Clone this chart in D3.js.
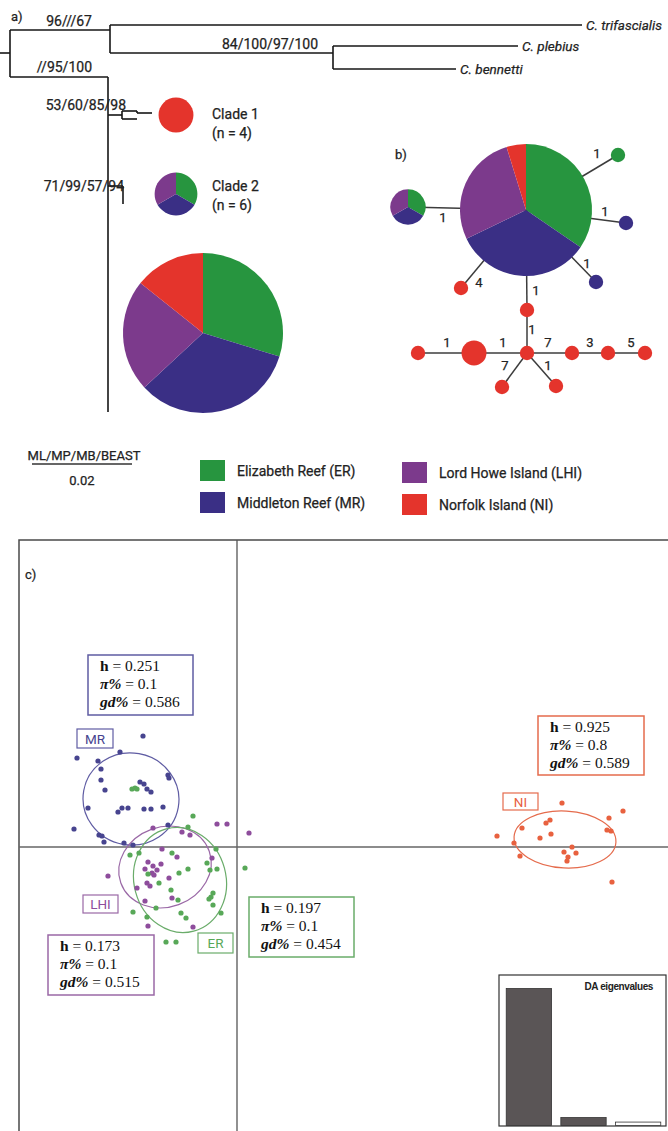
<!DOCTYPE html>
<html><head><meta charset="utf-8">
<script src="https://cdn.jsdelivr.net/npm/d3@7"></script>
<style>
html,body{margin:0;padding:0;background:#fff;}
svg{display:block;}
text.sans{stroke:#222;stroke-width:0.25px;}
</style></head><body>
<svg id="fig" width="668" height="1131"></svg>
<script>
// ---------------- data ----------------
const regionNames = ["Elizabeth Reef (ER)", "Middleton Reef (MR)", "Lord Howe Island (LHI)", "Norfolk Island (NI)"];
const regionCodes = ["ER", "MR", "LHI", "NI"];

// phylogeny (a): node id, parent, branch length (subst./site)
const treeIds     = ["root", "n1", "trif", "n2", "pleb", "benn", "n3", "c1", "c1a", "c1a1", "c1b", "c2", "c2a", "core"];
const treeParents = [null, "root", "n1", "n1", "n2", "n2", "root", "n3", "c1", "c1a", "c1", "n3", "c2", "n3"];
const treeLengths = [0, 0.0200, 0.0944, 0.0446, 0.0370, 0.0246, 0.0196, 0.0028, 0.0030, 0.0030, 0.0030, 0.0030, 0, 0];
const tipIds   = ["trif", "pleb", "benn"];
const tipNames = ["C. trifascialis", "C. plebius", "C. bennetti"];
const supportIds    = ["n1", "n2", "n3", "c1", "c2"];
const supportLabels = ["96///67", "84/100/97/100", "//95/100", "53/60/85/98", "71/99/57/94"];
const scaleBarValue = 0.02;
const scaleBarTitle = "ML/MP/MB/BEAST";

// clade composition (ER, MR, LHI, NI)
const cladeNames  = ["Clade 1", "Clade 2"];
const cladeSizes  = [4, 6];
const clade1Counts = [0, 0, 0, 4];
const clade2Counts = [2, 2, 2, 0];
const coreCounts   = [25, 28, 19, 12];

// haplotype network (b): counts per region (ER, MR, LHI, NI)
const hapIds = ["H1", "H2", "H3", "H4", "H5", "H6", "H7", "H8", "H9", "H10", "H11", "H12", "H13", "H14", "H15"];
const hapER  = [29, 2, 1, 0, 0, 0, 0, 0, 0, 0, 0, 0, 0, 0, 0];
const hapMR  = [28, 2, 0, 1, 1, 0, 0, 0, 0, 0, 0, 0, 0, 0, 0];
const hapLHI = [23, 2, 0, 0, 0, 0, 0, 0, 0, 0, 0, 0, 0, 0, 0];
const hapNI  = [4, 0, 0, 0, 0, 1, 1, 1, 3, 1, 1, 1, 1, 1, 1];
const edgeFrom  = ["H1", "H1", "H1", "H1", "H1", "H1", "H7", "H8", "H9", "H8", "H11", "H12", "H8", "H8"];
const edgeTo    = ["H2", "H3", "H4", "H5", "H6", "H7", "H8", "H9", "H10", "H11", "H12", "H13", "H14", "H15"];
const edgeSteps = [1, 1, 1, 1, 4, 1, 1, 1, 1, 7, 3, 5, 7, 1];

// DAPC (c): individual scores on DA1 / DA2
const erPoints = [[-10.5, 5.8], [-10.2, 5.9], [-10.0, 5.8], [-4.4, 3.1], [-4.9, 2.0], [-2.1, -0.2], [-10.7, -0.8], [-9.8, -0.6],
  [-6.5, -0.6], [-3.0, -1.6], [-2.0, -2.2], [-2.7, -2.3], [0.8, -2.1], [-4.9, -2.2], [-5.8, -2.6], [-8.9, -2.7],
  [-7.8, -3.6], [-6.6, -4.3], [-2.4, -4.6], [-2.6, -5.0], [-2.8, -5.2], [-2.4, -5.8], [-10.4, -6.5], [-8.1, -6.1],
  [-5.9, -5.3], [-5.6, -6.6], [-5.1, -7.1], [-1.6, -6.6], [-9.0, -7.0], [-7.1, -9.5], [-6.1, -9.5]];
const mrPoints = [[-9.4, 11.1], [-16.0, 8.9], [-11.7, 9.5], [-13.9, 8.6], [-13.6, 7.8], [-6.9, 7.2], [-6.8, 6.9], [-13.6, 6.7],
  [-13.2, 5.7], [-9.7, 6.5], [-9.3, 6.3], [-9.0, 5.8], [-8.6, 5.5], [-14.9, 3.9], [-11.5, 3.9], [-10.9, 3.9],
  [-11.9, 3.5], [-9.3, 3.8], [-8.6, 3.8], [-7.4, 4.0], [-16.3, 1.8], [-6.9, 2.2], [-13.8, 1.2], [-13.5, 1.1],
  [-13.3, 0.5], [-11.3, 0.4], [-10.4, 0.2]];
const lhiPoints = [[-2.0, 2.3], [-1.0, 2.3], [1.2, 1.4], [-8.4, 1.9], [-5.5, 1.5], [-4.7, 1.2], [-7.5, -0.2], [-6.0, -1.0],
  [-2.5, -1.1], [-9.2, -2.2], [-8.4, -1.9], [-7.6, -1.7], [-8.5, -2.6], [-8.3, -2.8], [-12.9, -2.9], [-6.8, -3.1],
  [-9.0, -3.6], [-8.7, -3.9], [-10.0, -4.1], [-6.5, -5.1], [-9.2, -5.4], [-8.9, -7.9], [-4.4, -8.0], [-8.9, -1.5], [-8.0, -2.3]];
const niPoints = [[32.5, 4.4], [38.6, 3.6], [37.2, 2.9], [31.3, 2.7], [30.9, 2.4], [28.5, 1.9], [37.0, 1.7], [37.4, 1.6],
  [26.0, 1.1], [31.4, 1.3], [30.3, 0.9], [27.7, 0.4], [33.5, 0.0], [32.7, -0.5], [33.9, -0.6], [28.3, -0.9],
  [33.1, -1.0], [33.0, -1.4], [37.5, -3.5]];
// 95% inertia ellipses: centre x, centre y, semi-axis x, semi-axis y, rotation (deg)
const erEllipse  = [-5.7, -3.3, 4.6, 5.3, -15];
const mrEllipse  = [-10.6, 4.8, 4.8, 4.6, 10];
const lhiEllipse = [-7.2, -2.0, 4.7, 4.0, -20];
const niEllipse  = [32.8, 0.75, 5.1, 2.85, 3];
// diversity statistics (ER, MR, LHI, NI)
const statH  = ["0.197", "0.251", "0.173", "0.925"];
const statPi = ["0.1", "0.1", "0.1", "0.8"];
const statGd = ["0.454", "0.586", "0.515", "0.589"];
// DA eigenvalues
const eigenvalues = [100, 5.8, 2.5];
const eigRetained = 2;

// ---------------- styling / layout ----------------
const pieColors = ["#27953f", "#3a2f85", "#7c3a8c", "#e4342c"];
const pcaColors = ["#58a858", "#47448f", "#8e4d9c", "#e8613f"];
const pcaLine   = ["#6aac6a", "#5f5ca3", "#9a68a6", "#e56b4c"];
const SANS = "Roboto, 'Open Sans', sans-serif";
const SERIF = "'Liberation Serif', 'DejaVu Serif', serif";

const svg = d3.select("#fig");
const sansText = (x, y, str, size) => svg.append("text").attr("class", "sans").attr("x", x).attr("y", y)
  .attr("font-family", SANS).attr("font-size", size).attr("fill", "#222").text(str);

// ---------------- (a) phylogeny ----------------
const treeY = {root: 53, n1: 30, trif: 25, n2: 53, pleb: 46, benn: 69, n3: 77,
  c1: 115, c1a: 111, c1a1: 113, c1b: 119, c2: 186, c2a: 204, core: 412};
const supportPos = {n1: [92, 26], n2: [318, 49], n3: [92, 72], c1: [126, 110], c2: [124, 191]};

const xTree = d3.scaleLinear().domain([0, 0.1144]).range([10, 582]);
const nodes = {};
treeIds.forEach((id, i) => nodes[id] = {id, parent: treeParents[i], len: treeLengths[i]});
const depth = id => nodes[id].parent ? depth(nodes[id].parent) + nodes[id].len : 0;

const gTree = svg.append("g").attr("stroke", "#161616").attr("stroke-width", 1.6).attr("fill", "none");
treeIds.forEach(id => {
  const n = nodes[id];
  if (n.parent) {
    gTree.append("line").attr("x1", xTree(depth(n.parent))).attr("x2", xTree(depth(id)))
      .attr("y1", treeY[id]).attr("y2", treeY[id]);
  }
  const kids = treeIds.filter(k => nodes[k].parent === id);
  if (kids.length) {
    const ys = kids.map(k => treeY[k]).concat([treeY[id]]);
    gTree.append("line").attr("x1", xTree(depth(id))).attr("x2", xTree(depth(id)))
      .attr("y1", d3.min(ys)).attr("y2", d3.max(ys));
  }
});
gTree.append("line").attr("x1", xTree(0) - 10).attr("x2", xTree(0)).attr("y1", treeY.root).attr("y2", treeY.root);

tipIds.forEach((id, i) => {
  sansText(xTree(depth(id)) + 4, treeY[id] + 5, tipNames[i], 13.5).attr("font-style", "italic");
});
supportIds.forEach((id, i) => {
  sansText(supportPos[id][0], supportPos[id][1], supportLabels[i], 14).attr("text-anchor", "end");
});
sansText(11, 21, "a)", 13);

function drawPie(cx, cy, r, counts) {
  const arcs = d3.pie().sort(null).value(d => d.v)(counts.map((v, i) => ({v, i}))).filter(a => a.data.v > 0);
  const arc = d3.arc().innerRadius(0).outerRadius(r);
  svg.append("g").attr("transform", `translate(${cx},${cy})`)
    .selectAll("path").data(arcs).join("path").attr("d", arc).attr("fill", a => pieColors[a.data.i]);
}
const rTree = d3.scaleSqrt().domain([0, 84]).range([0, 80]);
drawPie(176, 115, rTree(d3.sum(clade1Counts)), clade1Counts);
drawPie(176, 194, rTree(d3.sum(clade2Counts)), clade2Counts);
drawPie(203, 333, rTree(d3.sum(coreCounts)), coreCounts);
[[119, 138], [191, 210]].forEach((yy, i) => {
  sansText(212, yy[0], cladeNames[i], 14);
  sansText(212, yy[1], `(n = ${cladeSizes[i]})`, 14);
});

// scale bar
sansText(84, 460, scaleBarTitle, 13).attr("text-anchor", "middle");
svg.append("line").attr("x1", 32).attr("x2", 32 + xTree(scaleBarValue) - xTree(0)).attr("y1", 464).attr("y2", 464)
  .attr("stroke", "#333").attr("stroke-width", 1.6);
sansText(82, 485, scaleBarValue.toFixed(2), 13).attr("text-anchor", "middle");

// legend
const legendPos = [[200, 460], [200, 492], [402, 462], [402, 494]];
regionNames.forEach((name, i) => {
  const [lx, ly] = legendPos[i];
  svg.append("rect").attr("x", lx).attr("y", ly).attr("width", 25).attr("height", 21).attr("fill", pieColors[i]);
  sansText(lx + 37, ly + 16, name, 14);
});

// ---------------- (b) haplotype network ----------------
const hapPos = {H1: [526, 210], H2: [408, 207], H3: [618, 155], H4: [626, 223], H5: [596, 282], H6: [461, 288],
  H7: [527, 310], H8: [527, 353], H9: [474, 353], H10: [418, 353], H11: [572, 353], H12: [608, 353],
  H13: [645, 353], H14: [502, 387], H15: [556, 386]};
const stepPos = [[443, 222], [597, 158], [605, 216], [587, 268], [479, 287], [536, 295], [532, 334],
  [503, 347], [447, 347], [548, 347], [590, 347], [631, 347], [505, 370], [548, 370]];
const rNet = d3.scaleSqrt().domain([0, 84]).range([0, 66]);

const gEdges = svg.append("g").attr("stroke", "#3c3c3c").attr("stroke-width", 1.5);
edgeFrom.forEach((f, i) => {
  const a = hapPos[f], b = hapPos[edgeTo[i]];
  gEdges.append("line").attr("x1", a[0]).attr("y1", a[1]).attr("x2", b[0]).attr("y2", b[1]);
});
hapIds.forEach((id, i) => {
  const counts = [hapER[i], hapMR[i], hapLHI[i], hapNI[i]];
  drawPie(hapPos[id][0], hapPos[id][1], rNet(d3.sum(counts)), counts);
});
edgeSteps.forEach((s, i) => {
  sansText(stepPos[i][0], stepPos[i][1], s, 13).attr("text-anchor", "middle");
});
sansText(395, 159, "b)", 13);

// ---------------- (c) DAPC scatter ----------------
const xS = d3.scaleLinear().domain([-21.8, 43.0]).range([19, 667]);
const yS = d3.scaleLinear().domain([-28.4, 30.7]).range([1131, 540]);

svg.append("rect").attr("x", 19).attr("y", 540).attr("width", 700).attr("height", 700)
  .attr("fill", "none").attr("stroke", "#4a4a4a").attr("stroke-width", 1.5);
svg.append("line").attr("x1", xS(0)).attr("x2", xS(0)).attr("y1", 540).attr("y2", 1131).attr("stroke", "#555").attr("stroke-width", 1.3);
svg.append("line").attr("x1", 19).attr("x2", 668).attr("y1", yS(0)).attr("y2", yS(0)).attr("stroke", "#666").attr("stroke-width", 1.3);
sansText(25, 579, "c)", 13);

const groupPoints = [erPoints, mrPoints, lhiPoints, niPoints];
const groupEllipses = [erEllipse, mrEllipse, lhiEllipse, niEllipse];
const drawOrder = [1, 2, 0, 3];
drawOrder.forEach(g => {
  const [cx, cy, ax, ay, rot] = groupEllipses[g];
  const px = xS(cx), py = yS(cy);
  svg.append("ellipse").attr("cx", px).attr("cy", py)
    .attr("rx", xS(cx + ax) - px).attr("ry", py - yS(cy + ay))
    .attr("transform", `rotate(${rot},${px},${py})`)
    .attr("fill", "none").attr("stroke", pcaLine[g]).attr("stroke-width", 1.2);
});
drawOrder.forEach(g => {
  svg.append("g").selectAll("circle").data(groupPoints[g]).join("circle")
    .attr("cx", d => xS(d[0])).attr("cy", d => yS(d[1])).attr("r", 2.6).attr("fill", pcaColors[g]);
});

// group tags
const tagBox = [[198, 933, 35, 20], [77, 729, 36, 19], [83, 895, 35, 18], [503, 793, 35, 17]];
regionCodes.forEach((code, g) => {
  const [bx, by, bw, bh] = tagBox[g];
  svg.append("rect").attr("x", bx).attr("y", by).attr("width", bw).attr("height", bh)
    .attr("fill", "#fff").attr("stroke", pcaLine[g]).attr("stroke-width", 1.2);
  svg.append("text").attr("x", bx + bw / 2).attr("y", by + bh / 2 + 5).attr("text-anchor", "middle")
    .attr("font-family", SANS).attr("font-size", 13.5).attr("fill", pcaColors[g]).text(code);
});

// diversity boxes
const statBox = [[249, 897, 105, 60], [88, 655, 105, 60], [48, 935, 106, 60], [538, 716, 106, 59]];
regionCodes.forEach((code, g) => {
  const [bx, by, bw, bh] = statBox[g];
  svg.append("rect").attr("x", bx).attr("y", by).attr("width", bw).attr("height", bh)
    .attr("fill", "#fff").attr("stroke", pcaLine[g]).attr("stroke-width", 1.5);
  const rows = [["h", "normal", statH[g]], ["\u03c0%", "italic", statPi[g]], ["gd%", "italic", statGd[g]]];
  rows.forEach((r, k) => {
    const t = svg.append("text").attr("x", bx + 12).attr("y", by + 16 + k * 17.8)
      .attr("font-family", SERIF).attr("font-size", 15.5).attr("fill", "#111");
    t.append("tspan").attr("font-weight", "bold").attr("font-style", r[1]).text(r[0]);
    t.append("tspan").text(" = " + r[2]);
  });
});

// eigenvalue inset
const inset = {x: 499, y: 975, w: 167, h: 151};
svg.append("rect").attr("x", inset.x).attr("y", inset.y).attr("width", inset.w).attr("height", inset.h)
  .attr("fill", "#fff").attr("stroke", "#333").attr("stroke-width", 1.2);
const xb = d3.scaleBand().domain(d3.range(eigenvalues.length)).range([503.5, 663.5]).paddingInner(0.17).paddingOuter(0.05);
const yb = d3.scaleLinear().domain([0, eigenvalues[0]]).range([1125.5, 988.5]);
svg.append("g").selectAll("rect").data(eigenvalues).join("rect")
  .attr("x", (d, i) => xb(i)).attr("width", xb.bandwidth())
  .attr("y", d => yb(d)).attr("height", d => yb(0) - yb(d))
  .attr("fill", (d, i) => i < eigRetained ? "#5a5556" : "#fff").attr("stroke", "#333").attr("stroke-width", 0.8);
svg.append("text").attr("x", 653).attr("y", 990).attr("text-anchor", "end").attr("font-family", "'Liberation Sans', Arial, sans-serif")
  .attr("font-size", 10).attr("font-weight", "bold").attr("letter-spacing", -0.4).attr("fill", "#222").text("DA eigenvalues");
</script>
</body></html>
